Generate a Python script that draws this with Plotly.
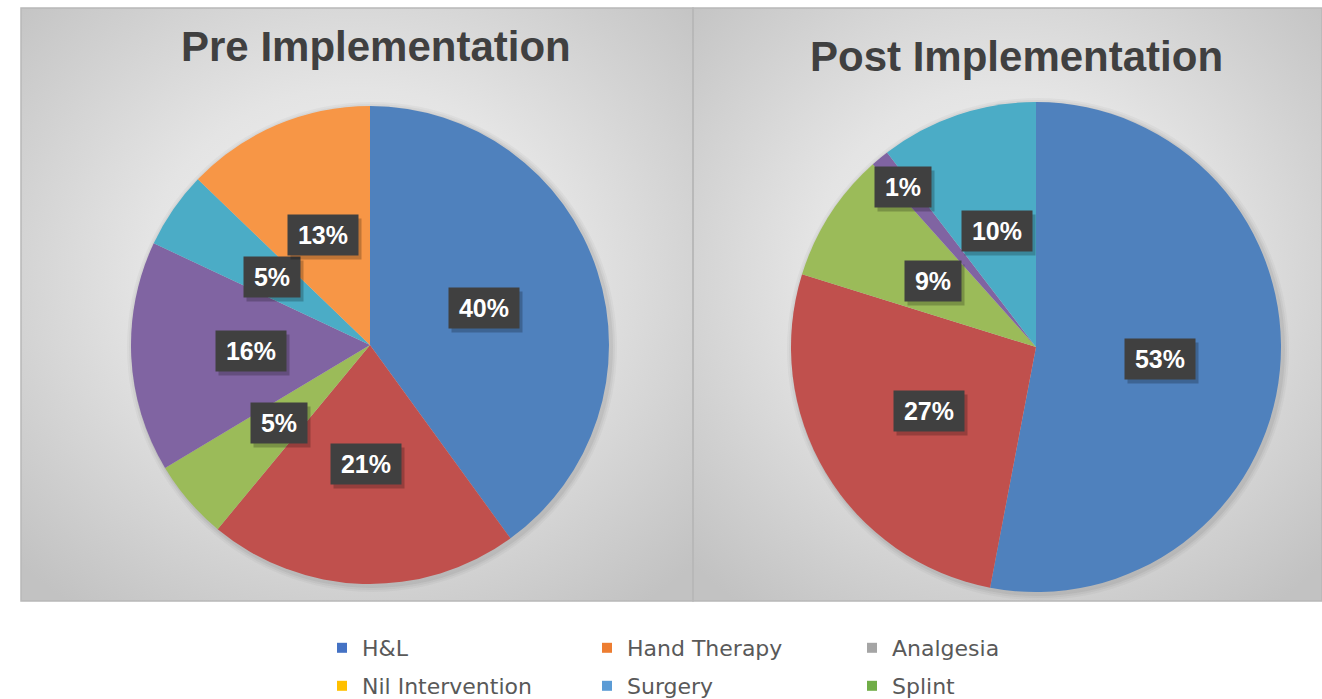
import base64
import math
import plotly.graph_objects as go

# ---------------- data ----------------
categories = ["H&L", "Hand Therapy", "Analgesia", "Nil Intervention", "Surgery", "Splint"]
pre_values = [40.0, 21.0, 5.4, 15.6, 5.2, 12.8]
post_values = [53.0, 26.8, 8.6, 1.2, 10.4, 0.0]
titles = ["Pre Implementation", "Post Implementation"]
legend_names = ["H&L", "Hand Therapy", "Analgesia", "Nil Intervention", "Surgery", "Splint"]

# ---------------- style ----------------
W, H = 1322, 699
slice_colors = ["#4F81BD", "#C0504D", "#9BBB59", "#8064A2", "#4BACC6", "#F79646"]
legend_colors = ["#4472C4", "#ED7D31", "#A5A5A5", "#FFC000", "#5B9BD5", "#70AD47"]
# pie geometry in pixels: (centre x, centre y, radius)
pies = [(370, 345, 239), (1036, 347, 245)]
panels = [(21, 8, 693, 601), (693, 8, 1322, 601)]
title_pos = [(376, 47), (1016, 57)]
label_radius = [[0.5] * 6, [0.51, 0.51, 0.5, 0.85, 0.5, 0.5]]


def px_x(x):
    return x / W


def px_y(y):
    return 1 - y / H


def panel_svg(w, h):
    svg = (
        f'<svg xmlns="http://www.w3.org/2000/svg" width="{w}" height="{h}" '
        f'viewBox="0 0 {w} {h}" preserveAspectRatio="none">'
        '<defs><radialGradient id="g" cx="50%" cy="45%" r="70%">'
        '<stop offset="0" stop-color="#f3f3f3"/>'
        '<stop offset="0.45" stop-color="#e4e4e4"/>'
        '<stop offset="1" stop-color="#c2c2c2"/>'
        '</radialGradient></defs>'
        f'<rect width="{w}" height="{h}" fill="url(#g)"/></svg>'
    )
    return "data:image/svg+xml;base64," + base64.b64encode(svg.encode()).decode()


fig = go.Figure()

images = []
shapes = []
annotations = []

for (x0, y0, x1, y1) in panels:
    images.append(dict(
        source=panel_svg(x1 - x0, y1 - y0), xref="paper", yref="paper",
        x=px_x(x0), y=px_y(y0), sizex=(x1 - x0) / W, sizey=(y1 - y0) / H,
        sizing="stretch", layer="below", xanchor="left", yanchor="top",
    ))
    shapes.append(dict(
        type="rect", xref="paper", yref="paper",
        x0=px_x(x0), x1=px_x(x1), y0=px_y(y1), y1=px_y(y0),
        line=dict(color="#b8b8b8", width=1.5), fillcolor="rgba(0,0,0,0)", layer="below",
    ))

for idx, (values, (cx, cy, r)) in enumerate(zip([pre_values, post_values], pies)):
    # soft shadow behind the pie
    for k, a in [(6, 0.03), (4, 0.04), (2, 0.05)]:
        shapes.append(dict(
            type="circle", xref="paper", yref="paper",
            x0=px_x(cx - r - k + 2), x1=px_x(cx + r + k + 2),
            y0=px_y(cy + r + k + 2), y1=px_y(cy - r - k + 2),
            fillcolor=f"rgba(0,0,0,{a})", line=dict(width=0), layer="below",
        ))
    fig.add_trace(go.Pie(
        labels=categories, values=values, sort=False, direction="clockwise",
        rotation=0, marker=dict(colors=slice_colors, line=dict(width=0)),
        textinfo="none", hoverinfo="label+percent", showlegend=False,
        domain=dict(x=[px_x(cx - r), px_x(cx + r)], y=[px_y(cy + r), px_y(cy - r)]),
    ))
    total = sum(values)
    cum = 0.0
    for j, v in enumerate(values):
        if v <= 0:
            continue
        mid = (cum + v / 2) / total * 360
        cum += v
        rr = r * label_radius[idx][j]
        lx = cx + rr * math.sin(math.radians(mid))
        ly = cy - rr * math.cos(math.radians(mid))
        txt = f"{round(v / total * 100)}%"
        bw = 56 if len(txt) <= 2 else 70
        # shadow
        annotations.append(dict(
            x=px_x(lx + 3), y=px_y(ly + 4), xref="paper", yref="paper",
            xanchor="center", yanchor="middle",
            text=" ", showarrow=False, width=bw, height=40, borderpad=0,
            bgcolor="rgba(0,0,0,0.22)", font=dict(size=25),
        ))
        annotations.append(dict(
            x=px_x(lx), y=px_y(ly), xref="paper", yref="paper",
            xanchor="center", yanchor="middle",
            text=f"<b>{txt}</b>", showarrow=False, width=bw, height=40, borderpad=0,
            bgcolor="#404040",
            font=dict(family="Liberation Sans, Arial, sans-serif", size=25, color="white"),
        ))

for t, (tx, ty) in zip(titles, title_pos):
    annotations.append(dict(
        x=px_x(tx), y=px_y(ty), xref="paper", yref="paper", text=f"<b>{t}</b>",
        xanchor="center", yanchor="middle", showarrow=False,
        font=dict(family="Liberation Sans, Arial, sans-serif", size=42, color="#404040"),
    ))

# legend entries via dummy traces split into two legend rows
for i, (name, col) in enumerate(zip(legend_names, legend_colors)):
    fig.add_trace(go.Scatter(
        x=[None], y=[None], mode="markers", name=name,
        marker=dict(symbol="square", size=10, color=col),
        legend="legend" if i < 3 else "legend2", showlegend=True,
    ))

legend_common = dict(
    orientation="h", xanchor="left", yanchor="middle",
    font=dict(family="DejaVu Sans, sans-serif", size=22, color="#595959"),
    bgcolor="rgba(0,0,0,0)", entrywidth=220, entrywidthmode="pixels",
    itemwidth=30, tracegroupgap=0,
)

fig.update_layout(
    width=W, height=H, margin=dict(l=0, r=0, t=0, b=0, autoexpand=False),
    paper_bgcolor="white", plot_bgcolor="rgba(0,0,0,0)",
    xaxis=dict(visible=False), yaxis=dict(visible=False),
    images=images, shapes=shapes, annotations=annotations,
    legend=dict(x=px_x(322), y=px_y(648), **legend_common),
    legend2=dict(x=px_x(322), y=px_y(686), **legend_common),
)

fig.write_html(
    "out.html",
    config={"displayModeBar": False},
    post_script="document.body.style.margin='0px';document.body.style.overflow='hidden';",
)
